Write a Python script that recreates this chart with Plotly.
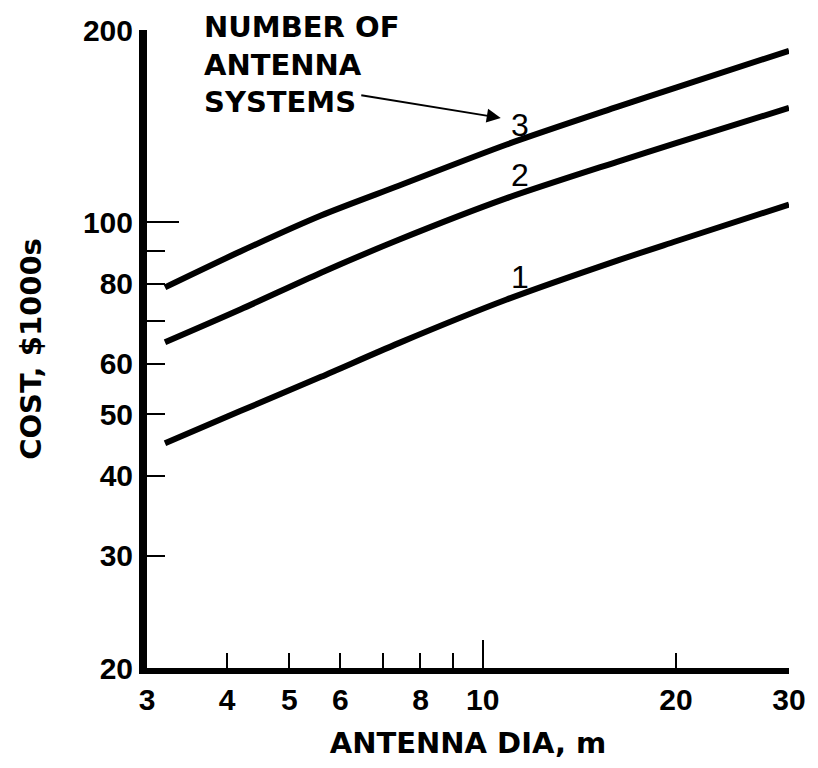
import numpy as np
import plotly.graph_objects as go

# ---- data ----
dia = [3.2, 4.2, 5.6, 7.4, 10.9, 16.2, 20.0, 30.0]
cost_1 = [45.0, 50.6, 57.2, 64.6, 75.6, 87.0, 93.3, 106.5]
cost_2 = [64.8, 73.0, 83.3, 93.8, 109.0, 124.3, 133.0, 151.0]
cost_3 = [79.0, 90.0, 102.4, 114.0, 132.3, 151.5, 162.5, 185.5]
series_names = ["1", "2", "3"]
label_x = [11.45, 11.45, 11.45]
label_y = [82.0, 118.5, 142.0]

x_tickvals = [3, 4, 5, 6, 7, 8, 9, 10, 20, 30]
x_ticktext = ["3", "4", "5", "6", "", "8", "", "10", "20", "30"]
x_long_ticks = [10]
y_tickvals = [20, 30, 40, 50, 60, 70, 80, 90, 100, 200]
y_ticktext = ["20", "30", "40", "50", "60", "", "80", "", "100", "200"]
y_long_ticks = [100, 200]

x_range = [np.log10(3), np.log10(30)]
y_range = [np.log10(20), np.log10(200)]

TXT = dict(family="DejaVu Sans", size=29, color="black", weight="bold")
TICK = dict(family="Liberation Sans", size=30, color="black", weight="bold")

fig = go.Figure()
for ys in (cost_1, cost_2, cost_3):
    fig.add_trace(go.Scatter(x=dia, y=ys, mode="lines",
                             line=dict(color="black", width=6, shape="spline", smoothing=0.8),
                             showlegend=False, hoverinfo="skip"))

# helper traces so overlay axes (long ticks) render
fig.add_trace(go.Scatter(x=[3], y=[20], xaxis="x2", yaxis="y", mode="markers",
                         marker=dict(opacity=0), showlegend=False, hoverinfo="skip"))
fig.add_trace(go.Scatter(x=[3], y=[20], xaxis="x", yaxis="y2", mode="markers",
                         marker=dict(opacity=0), showlegend=False, hoverinfo="skip"))

annotations = []
for name, lx, ly in zip(series_names, label_x, label_y):
    annotations.append(dict(x=np.log10(lx), y=np.log10(ly), xref="x", yref="y",
                            text=name, showarrow=False,
                            font=dict(family="Liberation Sans", size=32, color="black")))

annotations.append(dict(x=0.085, y=1.035, xref="paper", yref="paper",
                        xanchor="left", yanchor="top", align="left",
                        text="NUMBER OF<br>ANTENNA<br>SYSTEMS", showarrow=False,
                        font=TXT))
annotations.append(dict(x=np.log10(10.67), y=np.log10(145.6), xref="x", yref="y",
                        ax=-141, ay=-23, text="", showarrow=True,
                        arrowhead=2, arrowsize=1.4, arrowwidth=2, arrowcolor="black",
                        standoff=0, startstandoff=0))

fig.update_layout(
    width=818, height=768,
    margin=dict(l=147, r=25, t=30, b=100),
    paper_bgcolor="white", plot_bgcolor="white",
    annotations=annotations,
    xaxis=dict(type="log", range=x_range, tickmode="array",
               tickvals=x_tickvals, ticktext=x_ticktext,
               ticks="inside", ticklen=15, tickwidth=2, tickcolor="black",
               showline=True, linewidth=6, linecolor="black",
               showgrid=False, zeroline=False, tickfont=TICK,
               title=dict(text="ANTENNA DIA, m", font=TXT, standoff=20)),
    yaxis=dict(type="log", range=y_range, tickmode="array",
               tickvals=y_tickvals, ticktext=y_ticktext,
               ticks="inside", ticklen=18, tickwidth=2, tickcolor="black",
               showline=True, linewidth=8, linecolor="black",
               showgrid=False, zeroline=False, tickfont=TICK,
               title=dict(text="COST, $1000s", font=TXT, standoff=36)),
    xaxis2=dict(type="log", range=x_range, overlaying="x", anchor="y", side="bottom",
                tickmode="array", tickvals=x_long_ticks, ticks="inside", ticklen=28,
                tickwidth=2, tickcolor="black", showticklabels=False,
                showline=False, showgrid=False, zeroline=False),
    yaxis2=dict(type="log", range=y_range, overlaying="y", anchor="x", side="left",
                tickmode="array", tickvals=y_long_ticks, ticks="inside", ticklen=32,
                tickwidth=2, tickcolor="black", showticklabels=False,
                showline=False, showgrid=False, zeroline=False),
)

fig.write_html("out.html")
